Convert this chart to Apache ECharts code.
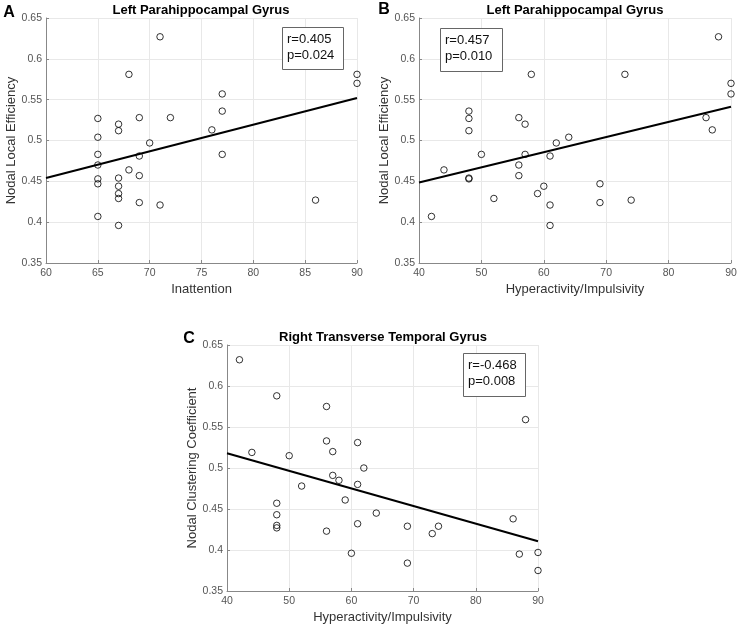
<!DOCTYPE html>
<html>
<head>
<meta charset="utf-8">
<script src="https://cdn.jsdelivr.net/npm/echarts@6/dist/echarts.min.js"></script>
<style>
html,body{margin:0;padding:0;background:#fff;}
#chart{width:740px;height:626px;}
</style>
</head>
<body>
<div id="chart"></div>
<script>
// Panel A: Inattention vs Nodal Local Efficiency
const inattA = [71, 68, 90, 90, 77, 77, 65, 67, 67, 69, 72, 76, 65, 70, 65, 69, 77, 65, 68, 65, 65, 67, 67, 69, 67, 67, 69, 71, 86, 65, 67];
const nleA   = [0.627, 0.581, 0.581, 0.570, 0.557, 0.536, 0.527, 0.520, 0.512, 0.528, 0.528, 0.513, 0.504, 0.497, 0.483, 0.481, 0.483, 0.470, 0.464, 0.453, 0.447, 0.454, 0.444, 0.457, 0.435, 0.429, 0.424, 0.421, 0.427, 0.407, 0.396];
const fitAx = [60, 90];
const fitAy = [0.454, 0.552];

// Panel B: Hyperactivity/Impulsivity vs Nodal Local Efficiency
const hyperB = [88, 58, 73, 90, 90, 48, 48, 48, 56, 57, 86, 87, 64, 62, 50, 57, 61, 44, 56, 48, 48, 56, 60, 59, 69, 69, 52, 61, 74, 42, 61];
const nleB   = [0.627, 0.581, 0.581, 0.570, 0.557, 0.536, 0.527, 0.512, 0.528, 0.520, 0.528, 0.513, 0.504, 0.497, 0.483, 0.483, 0.481, 0.464, 0.470, 0.454, 0.453, 0.457, 0.444, 0.435, 0.447, 0.424, 0.429, 0.421, 0.427, 0.407, 0.396];
const fitBx = [40, 90];
const fitBy = [0.4485, 0.5413];

// Panel C: Hyperactivity/Impulsivity vs Nodal Clustering Coefficient
const hyperC = [42, 48, 56, 88, 56, 61, 44, 57, 50, 62, 57, 58, 61, 52, 59, 48, 64, 48, 48, 48, 86, 56, 61, 69, 74, 73, 60, 87, 90, 69, 90];
const nccC   = [0.632, 0.588, 0.575, 0.559, 0.533, 0.531, 0.519, 0.520, 0.515, 0.500, 0.491, 0.485, 0.480, 0.478, 0.461, 0.457, 0.445, 0.443, 0.430, 0.427, 0.438, 0.423, 0.432, 0.429, 0.429, 0.420, 0.396, 0.395, 0.397, 0.384, 0.375];
const fitCx = [40, 90];
const fitCy = [0.518, 0.4107];

const titles = ['Left Parahippocampal Gyrus', 'Left Parahippocampal Gyrus', 'Right Transverse Temporal Gyrus'];
const letters = ['A', 'B', 'C'];
const xNames = ['Inattention', 'Hyperactivity/Impulsivity', 'Hyperactivity/Impulsivity'];
const yNames = ['Nodal Local Efficiency', 'Nodal Local Efficiency', 'Nodal Clustering Coefficient'];
const statsR = ['r=0.405', 'r=0.457', 'r=-0.468'];
const statsP = ['p=0.024', 'p=0.010', 'p=0.008'];

const FONT = "'Liberation Sans', Arial, Helvetica, sans-serif";
const chart = echarts.init(document.getElementById('chart'), null, {renderer: 'canvas'});

const grids = [
  {left: 46, top: 18, width: 311, height: 245},
  {left: 419, top: 18, width: 312, height: 245},
  {left: 227, top: 345, width: 311, height: 246}
];
const xRanges = [[60, 90, 5], [40, 90, 10], [40, 90, 10]];

function pairs(xs, ys) { return xs.map((x, i) => [x, ys[i]]); }

const xAxes = xRanges.map((r, i) => ({
  type: 'value', gridIndex: i, min: r[0], max: r[1], interval: r[2],
  name: xNames[i], nameLocation: 'middle', nameGap: 20,
  nameTextStyle: {fontFamily: FONT, fontSize: 13, color: '#333'},
  axisLine: {show: true, onZero: false, lineStyle: {color: '#888', width: 1}},
  axisTick: {show: true, inside: true, length: 3, lineStyle: {color: '#888'}},
  axisLabel: {fontFamily: FONT, fontSize: 10.5, color: '#555', margin: 5},
  splitLine: {show: true, lineStyle: {color: '#e8e8e8', width: 1}}
}));
const yAxes = [0, 1, 2].map(i => ({
  type: 'value', gridIndex: i, min: 0.35, max: 0.65, interval: 0.05,
  name: yNames[i], nameLocation: 'middle', nameGap: 23, nameRotate: 90,
  nameTextStyle: {fontFamily: FONT, fontSize: 13, color: '#333'},
  axisLine: {show: true, onZero: false, lineStyle: {color: '#888', width: 1}},
  axisTick: {show: true, inside: true, length: 3, lineStyle: {color: '#888'}},
  axisLabel: {fontFamily: FONT, fontSize: 10.5, color: '#555', margin: 4,
    formatter: v => String(+(+v).toFixed(2))},
  splitLine: {show: true, lineStyle: {color: '#e8e8e8', width: 1}}
}));

const scatterData = [pairs(inattA, nleA), pairs(hyperB, nleB), pairs(hyperC, nccC)];
const fitData = [pairs(fitAx, fitAy), pairs(fitBx, fitBy), pairs(fitCx, fitCy)];

const series = [];
for (let i = 0; i < 3; i++) {
  series.push({
    type: 'line', xAxisIndex: i, yAxisIndex: i, data: fitData[i],
    symbol: 'none', silent: true, animation: false,
    lineStyle: {color: '#000', width: 2}, z: 3
  });
  series.push({
    type: 'scatter', xAxisIndex: i, yAxisIndex: i, data: scatterData[i],
    symbol: 'circle', symbolSize: 6.5, silent: true, animation: false,
    itemStyle: {color: 'rgba(0,0,0,0)', borderColor: '#000', borderWidth: 1}, z: 4
  });
}

const titlePos = [[201, 10], [575, 10], [383, 337]];
const letterPos = [[9, 13], [384, 10], [189, 339]];
const boxes = [[282, 27, 61, 42], [440, 28, 62, 43], [463, 353, 62, 43]];

const graphics = [];
for (let i = 0; i < 3; i++) {
  graphics.push({
    type: 'text', x: titlePos[i][0], y: titlePos[i][1], z: 100,
    style: {text: titles[i], font: 'bold 13px ' + FONT, fill: '#000',
      textAlign: 'center', align: 'center', textVerticalAlign: 'middle', verticalAlign: 'middle'}
  });
  graphics.push({
    type: 'text', x: letterPos[i][0], y: letterPos[i][1], z: 100,
    style: {text: letters[i], font: 'bold 16px ' + FONT, fill: '#000',
      textAlign: 'center', align: 'center', textVerticalAlign: 'middle', verticalAlign: 'middle'}
  });
  const b = boxes[i];
  graphics.push({
    type: 'rect', z: 100,
    shape: {x: b[0] + 0.5, y: b[1] + 0.5, width: b[2], height: b[3]},
    style: {fill: '#fff', stroke: '#666', lineWidth: 1}
  });
  graphics.push({
    type: 'text', x: b[0] + 5, y: b[1] + 12.5, z: 101,
    style: {text: statsR[i], font: '13px ' + FONT, fill: '#111',
      textAlign: 'left', align: 'left', textVerticalAlign: 'middle', verticalAlign: 'middle'}
  });
  graphics.push({
    type: 'text', x: b[0] + 5, y: b[1] + 28.5, z: 101,
    style: {text: statsP[i], font: '13px ' + FONT, fill: '#111',
      textAlign: 'left', align: 'left', textVerticalAlign: 'middle', verticalAlign: 'middle'}
  });
}

chart.setOption({
  backgroundColor: '#fff',
  animation: false,
  grid: grids,
  xAxis: xAxes,
  yAxis: yAxes,
  series: series,
  graphic: graphics
});
</script>
</body>
</html>
